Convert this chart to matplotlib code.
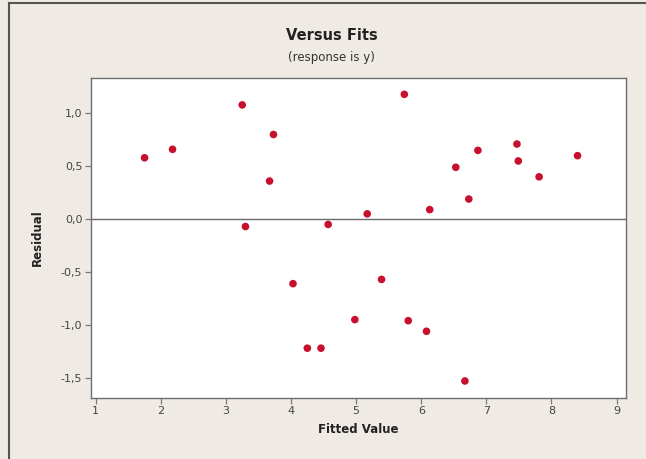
import matplotlib
matplotlib.use("Agg")
import matplotlib.pyplot as plt
from matplotlib.lines import Line2D

fitted = [1.75, 2.18, 3.25, 3.73, 3.67, 3.30, 4.03, 4.25, 4.46, 4.57,
          5.74, 5.17, 5.39, 4.98, 5.80, 6.08, 6.67, 6.13, 6.73, 6.53,
          6.87, 7.47, 7.49, 7.81, 8.40]
residual = [0.58, 0.66, 1.08, 0.80, 0.36, -0.07, -0.61, -1.22, -1.22, -0.05,
            1.18, 0.05, -0.57, -0.95, -0.96, -1.06, -1.53, 0.09, 0.19, 0.49,
            0.65, 0.71, 0.55, 0.40, 0.60]
xticks = [1, 2, 3, 4, 5, 6, 7, 8, 9]
yticks = [-1.5, -1.0, -0.5, 0.0, 0.5, 1.0]
ytick_labels = ["-1,5", "-1,0", "-0,5", "0,0", "0,5", "1,0"]

bg = "#efeae4"
fig = plt.figure(figsize=(6.46, 4.59), dpi=100, facecolor=bg)
ax = fig.add_axes([0.1404, 0.1329, 0.8282, 0.6971])
ax.set_facecolor("white")

ax.axhline(0, color="#6a6a6a", lw=1.0, zorder=1)
ax.scatter(fitted, residual, s=30, color="#c8102e", edgecolors="none", zorder=3)

ax.set_xlim(0.923, 9.14)
ax.set_ylim(-1.691, 1.334)
ax.set_xticks(xticks)
ax.set_xticklabels([str(t) for t in xticks])
ax.set_yticks(yticks)
ax.set_yticklabels(ytick_labels)

for s in ax.spines.values():
    s.set_color("#6e6e6e")
    s.set_linewidth(1.0)
ax.tick_params(direction="out", length=4, width=0.9, color="#7a7a7a",
               labelsize=8, labelcolor="#444444", pad=2)

ax.set_xlabel("Fitted Value", fontsize=8.5, fontweight="bold", color="#222222", labelpad=5)
ax.set_ylabel("Residual", fontsize=8.5, fontweight="bold", color="#222222", labelpad=12)

fig.text(331.5 / 646, 1 - 35.5 / 459, "Versus Fits", ha="center", va="center",
         fontsize=10.5, fontweight="bold", color="#222222")
fig.text(331.5 / 646, 1 - 57.5 / 459, "(response is y)", ha="center", va="center",
         fontsize=8.5, color="#333333")

# outer frame lines (left & top)
fig.add_artist(Line2D([9 / 646, 9 / 646], [0, 1 - 3 / 459], transform=fig.transFigure,
                      color="#555555", lw=1.5))
fig.add_artist(Line2D([9 / 646, 1], [1 - 3 / 459, 1 - 3 / 459], transform=fig.transFigure,
                      color="#555555", lw=1.5))

fig.savefig("out.png", dpi=100, facecolor=bg)
